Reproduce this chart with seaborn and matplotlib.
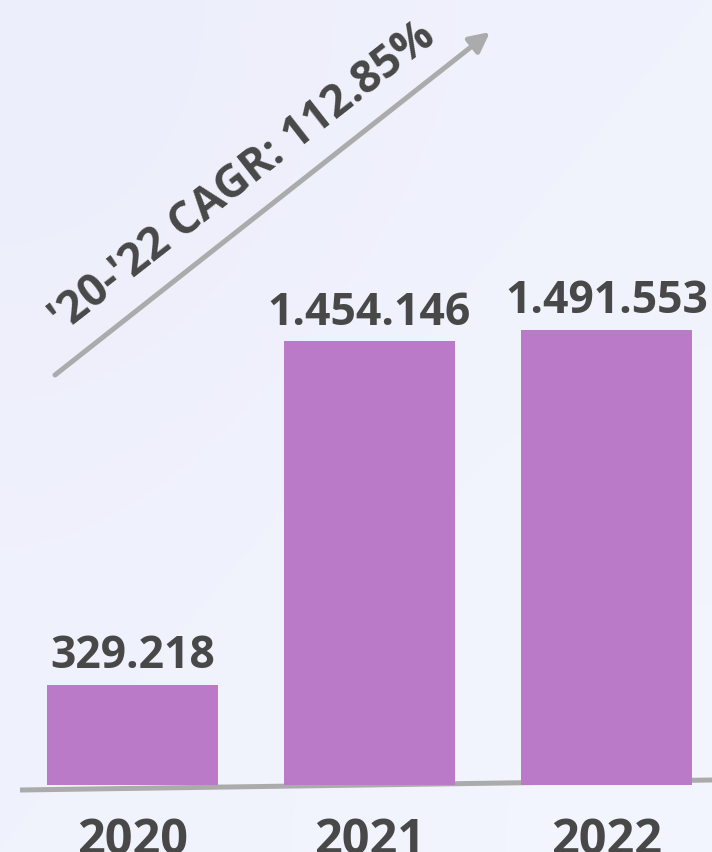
import numpy as np
import pandas as pd
import matplotlib
matplotlib.use('agg')
import seaborn as sns
import matplotlib.pyplot as plt
from matplotlib.colors import LinearSegmentedColormap

YEARS = ["2020", "2021", "2022"]
VALUES = [329218, 1454146, 1491553]
CAGR_LABEL = "'20-'22 CAGR: 112.85%"

BAR_COLOR = "#BB7AC8"
TEXT_COLOR = "#484848"
LINE_COLOR = "#ABABAB"

sns.set_style("white")
plt.rcParams['font.family'] = ['Open Sans', 'DejaVu Sans']

df = pd.DataFrame({"year": YEARS, "value": VALUES})

W, H = 712, 852
fig = plt.figure(figsize=(W / 100, H / 100), dpi=100)

# soft lavender -> pale blue background
bg = fig.add_axes([0, 0, 1, 1], zorder=-10)
cmap = LinearSegmentedColormap.from_list("bg", ["#EDEEFB", "#F3F6FE"])
grad = np.array([[0.0, 0.5], [0.5, 1.0]])
bg.imshow(grad, cmap=cmap, aspect='auto', interpolation='bicubic', extent=[0, 1, 0, 1])
bg.axis('off')

# axes: zero baseline at y=785px from top
ax = fig.add_axes([0, 67 / H, 1, 1 - 67 / H])
ax.patch.set_alpha(0)

sns.barplot(data=df, x="year", y="value", color=BAR_COLOR, width=0.72,
            saturation=1, linewidth=0, edgecolor='none', ax=ax, zorder=2)

labels = [f"{v:,}".replace(",", ".") for v in VALUES]
ax.bar_label(ax.containers[0], labels=labels, padding=4, fontsize=32,
             fontweight='bold', color=TEXT_COLOR)

ax.set_xlim(-132.5 / 237, (W - 132.5) / 237)
ax.set_ylim(0, 785 * 3278)
ax.set(xlabel="", ylabel="")
ax.set_yticks([])
ax.tick_params(axis='x', length=0, pad=23, labelsize=35, labelcolor=TEXT_COLOR)
for t in ax.get_xticklabels():
    t.set_fontweight('bold')
sns.despine(ax=ax, left=True, bottom=True)

# slightly tilted baseline behind the bars
ax.plot([20 / W, 1.0], [(H - 790) / H, (H - 780) / H], transform=fig.transFigure,
        color=LINE_COLOR, lw=3.6, solid_capstyle='butt', clip_on=False, zorder=1)

# growth arrow with CAGR text
ax.annotate("", xy=(490, H - 32), xytext=(55, H - 375),
            xycoords='figure pixels', textcoords='figure pixels',
            arrowprops=dict(arrowstyle='-|>', color=LINE_COLOR, lw=3.6,
                            mutation_scale=30, shrinkA=0, shrinkB=0))
fig.text(243 / W, (H - 178) / H, CAGR_LABEL, rotation=38, rotation_mode='anchor',
         ha='center', va='center', fontsize=32, fontweight='bold', color=TEXT_COLOR)

fig.savefig("out.png", dpi=100)
